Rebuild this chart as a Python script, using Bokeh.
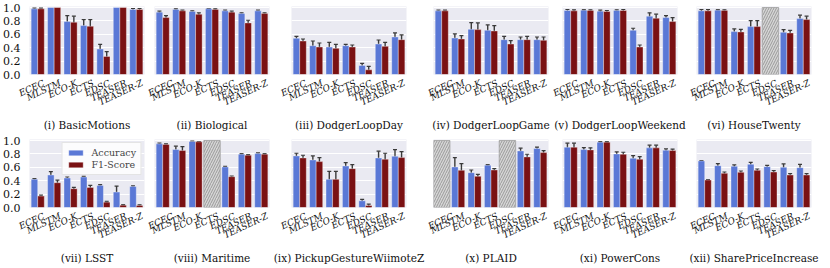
import math
from bokeh.plotting import figure
from bokeh.layouts import column, row
from bokeh.models import (Range1d, FixedTicker, PrintfTickFormatter, Whisker,
                          ColumnDataSource, TeeHead, Legend, LegendItem)
from bokeh.embed import file_html
from bokeh.resources import INLINE

methods = ["ECEC", "MLSTM", "ECO-K", "ECTS", "EDSC", "TEASER", "TEASER-Z"]
titles = ["(i) BasicMotions", "(ii) Biological", "(iii) DodgerLoopDay",
          "(iv) DodgerLoopGame", "(v) DodgerLoopWeekend", "(vi) HouseTwenty",
          "(vii) LSST", "(viii) Maritime", "(ix) PickupGestureWiimoteZ",
          "(x) PLAID", "(xi) PowerCons", "(xii) SharePriceIncrease"]

acc_mean = [
    [0.98, 1.00, 0.79, 0.73, 0.38, 1.00, 0.97],
    [0.93, 0.97, 0.94, 0.98, 0.95, 0.91, 0.95],
    [0.54, 0.43, 0.41, 0.43, 0.135, 0.455, 0.56],
    [0.95, 0.545, 0.675, 0.66, 0.52, 0.52, 0.52],
    [0.955, 0.96, 0.945, 0.955, 0.66, 0.87, 0.85],
    [0.95, 0.96, 0.64, 0.715, None, 0.63, 0.835],
    [0.42, 0.485, 0.44, 0.455, 0.33, 0.23, 0.315],
    [0.95, 0.865, 0.985, None, 0.605, 0.795, 0.805],
    [0.77, 0.71, 0.42, 0.62, 0.10, 0.74, 0.765],
    [None, 0.605, 0.52, 0.63, None, 0.845, 0.88],
    [0.90, 0.865, 0.975, 0.80, 0.735, 0.89, 0.855],
    [0.695, 0.625, 0.615, 0.645, 0.61, 0.60, 0.595],
]
acc_std = [
    [0.01, 0.0, 0.09, 0.09, 0.07, 0.0, 0.015],
    [0.015, 0.01, 0.01, 0.005, 0.01, 0.01, 0.01],
    [0.03, 0.07, 0.07, 0.02, 0.03, 0.06, 0.06],
    [0.01, 0.06, 0.10, 0.08, 0.05, 0.04, 0.04],
    [0.015, 0.01, 0.015, 0.01, 0.03, 0.05, 0.03],
    [0.02, 0.01, 0.04, 0.09, None, 0.04, 0.05],
    [0.01, 0.05, 0.015, 0.01, 0.01, 0.09, 0.01],
    [0.01, 0.05, 0.005, None, 0.01, 0.01, 0.01],
    [0.04, 0.06, 0.12, 0.05, 0.02, 0.10, 0.10],
    [None, 0.14, 0.04, 0.01, None, 0.04, 0.02],
    [0.06, 0.03, 0.01, 0.03, 0.04, 0.04, 0.02],
    [0.005, 0.03, 0.02, 0.03, 0.02, 0.05, 0.05],
]
f1_mean = [
    [0.98, 1.00, 0.78, 0.72, 0.27, 1.00, 0.97],
    [0.85, 0.95, 0.90, 0.97, 0.93, 0.77, 0.91],
    [0.50, 0.41, 0.39, 0.41, 0.07, 0.42, 0.52],
    [0.95, 0.53, 0.67, 0.65, 0.455, 0.52, 0.51],
    [0.95, 0.955, 0.94, 0.955, 0.41, 0.84, 0.79],
    [0.95, 0.955, 0.635, 0.715, None, 0.62, 0.82],
    [0.17, 0.37, 0.28, 0.30, 0.08, 0.035, 0.03],
    [0.94, 0.85, 0.98, None, 0.46, 0.78, 0.795],
    [0.74, 0.685, 0.42, 0.58, 0.03, 0.72, 0.745],
    [None, 0.555, 0.465, 0.56, None, 0.755, 0.82],
    [0.90, 0.86, 0.975, 0.795, 0.72, 0.89, 0.85],
    [0.41, 0.51, 0.525, 0.555, 0.53, 0.485, 0.485],
]
f1_std = [
    [0.01, 0.0, 0.09, 0.10, 0.07, 0.0, 0.015],
    [0.03, 0.01, 0.02, 0.01, 0.015, 0.04, 0.01],
    [0.03, 0.06, 0.06, 0.03, 0.05, 0.06, 0.07],
    [0.01, 0.05, 0.10, 0.08, 0.05, 0.05, 0.05],
    [0.015, 0.01, 0.015, 0.015, 0.03, 0.06, 0.06],
    [0.02, 0.01, 0.04, 0.09, None, 0.04, 0.05],
    [0.015, 0.04, 0.02, 0.03, 0.01, 0.01, 0.01],
    [0.01, 0.06, 0.005, None, 0.01, 0.01, 0.01],
    [0.04, 0.06, 0.12, 0.06, 0.02, 0.09, 0.09],
    [None, 0.10, 0.03, 0.02, None, 0.04, 0.03],
    [0.06, 0.03, 0.01, 0.03, 0.04, 0.04, 0.02],
    [0.005, 0.02, 0.02, 0.02, 0.02, 0.02, 0.02],
]
y_ticks = [0.0, 0.2, 0.4, 0.6, 0.8, 1.0]
na_top = 1.0  # height of the hatched "not available" bar

BLUE = "#5a78d6"
RED = "#7a1113"
BG = "#EAEAF2"
ERR = "#3a3a3a"
SERIF = "DejaVu Serif"
FW, FH = 115, 68
LABEL_SHIFT = 0.38
# per-column (left, right) borders, leaving room for the wide captions
BORDERS = [(0, 2), (8, 2), (20, 20), (7, 3), (11, 11), (8, 8)]


def make_panel(k, legend=False):
    col = k % 6
    first_col = col == 0
    bl, br = BORDERS[col]
    fig = figure(frame_width=FW, frame_height=FH,
                 x_range=Range1d(-0.5, 6.5), y_range=Range1d(0, 1.015),
                 output_backend="svg", toolbar_location=None,
                 y_axis_location="left" if first_col else None,
                 min_border_left=bl, min_border_right=br,
                 min_border_top=6, min_border_bottom=0,
                 background_fill_color=BG, border_fill_color="white",
                 outline_line_color=None)

    fig.xgrid.visible = False
    fig.ygrid.ticker = FixedTicker(ticks=y_ticks)
    fig.ygrid.grid_line_color = "white"
    fig.ygrid.grid_line_width = 1

    ax = fig.xaxis[0]
    ax.ticker = FixedTicker(ticks=[i + LABEL_SHIFT for i in range(len(methods))])
    ax.major_label_overrides = {i + LABEL_SHIFT: m for i, m in enumerate(methods)}
    ax.major_label_orientation = math.radians(25)
    ax.major_label_text_font = SERIF
    ax.major_label_text_font_style = "italic"
    ax.major_label_text_font_size = "9px"
    ax.major_label_text_color = "#111111"
    ax.major_label_standoff = 2
    ax.axis_line_color = None
    ax.major_tick_line_color = None
    ax.minor_tick_line_color = None
    ax.axis_label = titles[k]
    ax.axis_label_text_font = SERIF
    ax.axis_label_text_font_size = "10.5px"
    ax.axis_label_text_font_style = "normal"
    ax.axis_label_text_color = "#111111"
    ax.axis_label_standoff = 4

    if first_col:
        ay = fig.yaxis[0]
        ay.ticker = FixedTicker(ticks=y_ticks)
        ay.formatter = PrintfTickFormatter(format="%.1f")
        ay.major_label_text_font = SERIF
        ay.major_label_text_font_size = "11px"
        ay.major_label_text_color = "#111111"
        ay.major_label_standoff = 3
        ay.axis_line_color = None
        ay.major_tick_line_color = None
        ay.minor_tick_line_color = None

    am, asd, fm, fsd = acc_mean[k], acc_std[k], f1_mean[k], f1_std[k]
    idx = [i for i in range(len(methods)) if am[i] is not None]
    na = [i for i in range(len(methods)) if am[i] is None]

    src_a = ColumnDataSource(dict(x=[i - 0.2 for i in idx], top=[am[i] for i in idx]))
    src_f = ColumnDataSource(dict(x=[i + 0.2 for i in idx], top=[fm[i] for i in idx]))
    r_a = fig.vbar(x="x", top="top", width=0.4, source=src_a, fill_color=BLUE,
                   line_color="white", line_width=0.6, line_alpha=0.6)
    r_f = fig.vbar(x="x", top="top", width=0.4, source=src_f, fill_color=RED,
                   line_color="white", line_width=0.6, line_alpha=0.6)
    if na:
        fig.vbar(x=na, top=[na_top] * len(na), width=1.0, fill_color="#d6d6d6",
                 line_color="#a0a0a0", line_width=0.8,
                 hatch_pattern="/", hatch_color="#8a8a8a", hatch_scale=5,
                 hatch_weight=0.8)

    bx, lo, hi = [], [], []
    for i in idx:
        if asd[i] and asd[i] > 0:
            bx.append(i - 0.2); lo.append(am[i] - asd[i]); hi.append(am[i] + asd[i])
        if fsd[i] and fsd[i] > 0:
            bx.append(i + 0.2); lo.append(fm[i] - fsd[i]); hi.append(fm[i] + fsd[i])
    esrc = ColumnDataSource(dict(base=bx, lower=lo, upper=hi))
    fig.add_layout(Whisker(base="base", lower="lower", upper="upper", source=esrc,
                           dimension="height", line_color=ERR, line_width=1.4,
                           upper_head=TeeHead(size=4, line_color=ERR, line_width=1.2),
                           lower_head=TeeHead(size=4, line_color=ERR, line_width=1.2)))

    if legend:
        lg = Legend(items=[LegendItem(label="Accuracy", renderers=[r_a]),
                           LegendItem(label="F1-Score", renderers=[r_f])],
                    location="top_right", margin=3, padding=4, spacing=1,
                    glyph_width=18, glyph_height=7, label_standoff=7,
                    label_height=10, label_text_font=SERIF,
                    label_text_font_size="9.5px",
                    background_fill_color="white", background_fill_alpha=0.85,
                    border_line_color="#cccccc", border_line_width=1)
        fig.add_layout(lg)
    return fig


figs = [make_panel(k, legend=(k == 6)) for k in range(12)]
layout = column(row(*figs[:6]), row(*figs[6:]))
open("out.html", "w").write(file_html(layout, INLINE))
